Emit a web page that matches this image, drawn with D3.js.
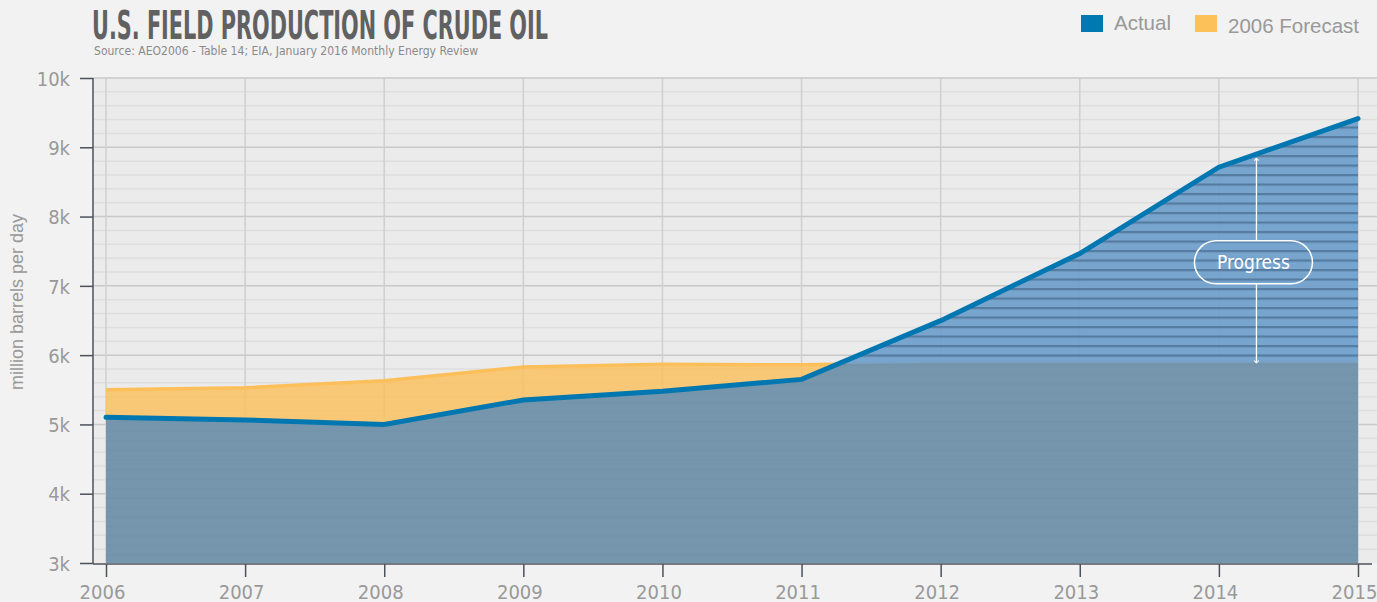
<!DOCTYPE html>
<html>
<head>
<meta charset="utf-8">
<script src="https://cdn.jsdelivr.net/npm/d3@7"></script>
<style>
  body { margin: 0; background: #f2f2f2; }
  svg { display: block; }
  .din { font-family: "DejaVu Sans Condensed", Roboto, sans-serif; }
  .helv { font-family: "Liberation Sans", Arial, sans-serif; }
</style>
</head>
<body>
<div id="chart"></div>
<script>
// data
const years = [2006, 2007, 2008, 2009, 2010, 2011, 2012, 2013, 2014, 2015];
const actual = [5102, 5064, 5000, 5353, 5479, 5650, 6498, 7467, 8712, 9415];
const forecast = [5500, 5530, 5630, 5830, 5870, 5860, 5890, 5890, 5890, 5890];
const yTicks = [3000, 4000, 5000, 6000, 7000, 8000, 9000, 10000];
const legendItems = ["Actual", "2006 Forecast"];
const progressYear = 2014.27;
const progressRange = [5890, 8840];
const progressLabelValue = 7340;

let w = 1377;
let h = 602;

let svg = d3.select("#chart")
  .append("svg")
    .attr("width", w)
    .attr("height", h);

// scales
let x = d3.scaleLinear().domain([2006, 2015]).range([106, 1358]);
let y = d3.scaleLinear().domain([3000, 10000]).range([563, 78]);

let plotLeft = 93, plotRight = 1377;

let defs = svg.append("defs");

// stripes for the progress region
let pat = defs.append("pattern")
  .attr("id", "stripes")
  .attr("patternUnits", "userSpaceOnUse")
  .attr("width", 20)
  .attr("height", 9.5)
  .attr("y", 3);
pat.append("rect").attr("width", 20).attr("height", 9.5).attr("fill", "#6fa0cc");
pat.append("rect").attr("width", 20).attr("height", 2.2).attr("fill", "#4a739b");

let data = years.map((yr, i) => ({year: yr, actual: actual[i], forecast: forecast[i]}));

let forecastArea = d3.area()
  .x(d => x(d.year))
  .y0(y(3000))
  .y1(d => y(d.forecast));
let actualArea = d3.area()
  .x(d => x(d.year))
  .y0(y(3000))
  .y1(d => y(d.actual));

defs.append("clipPath").attr("id", "fclip")
  .append("path").attr("d", forecastArea(data));

// plot background
svg.append("rect")
  .attr("x", plotLeft).attr("y", y(10000))
  .attr("width", plotRight - plotLeft).attr("height", y(3000) - y(10000))
  .attr("fill", "#ebebeb");

// minor grid
let minor = d3.range(3200, 10000, 200).filter(v => v % 1000 !== 0);
svg.append("g").selectAll("line").data(minor).join("line")
  .attr("x1", plotLeft).attr("x2", plotRight)
  .attr("y1", d => y(d)).attr("y2", d => y(d))
  .attr("stroke", "#dedede").attr("stroke-width", 1.5);

// major grid
svg.append("g").selectAll("line").data(yTicks.slice(1)).join("line")
  .attr("x1", plotLeft).attr("x2", plotRight)
  .attr("y1", d => y(d)).attr("y2", d => y(d))
  .attr("stroke", "#c9c9c9").attr("stroke-width", 1.5);

svg.append("g").selectAll("line").data(years).join("line")
  .attr("x1", d => x(d)).attr("x2", d => x(d))
  .attr("y1", y(10000)).attr("y2", y(3000))
  .attr("stroke", "#cfcfcf").attr("stroke-width", 1.5);

// forecast area
svg.append("path")
  .attr("d", forecastArea(data))
  .attr("fill", "#fdbf5a")
  .attr("fill-opacity", 0.8);
svg.append("path")
  .attr("d", d3.line().x(d => x(d.year)).y(d => y(d.forecast))(data))
  .attr("fill", "none")
  .attr("stroke", "#fdbf5a")
  .attr("stroke-width", 3.5);

// actual area: striped where it beats the forecast
svg.append("path")
  .attr("d", actualArea(data))
  .attr("fill", "url(#stripes)")
  .attr("fill-opacity", 0.93);
svg.append("path")
  .attr("d", actualArea(data))
  .attr("clip-path", "url(#fclip)")
  .attr("fill", "#7596ab")
  .attr("fill-opacity", 0.95);

// axes
let axisColor = "#4b505b";
let yAxis = d3.axisLeft(y).tickValues(yTicks).tickSize(13).tickFormat(d => d / 1000 + "k");
let gy = svg.append("g").attr("transform", "translate(" + plotLeft + ",0)").call(yAxis);
let xAxis = d3.axisBottom(x).tickValues(years).tickSize(13).tickFormat(d3.format("d"));
let gx = svg.append("g").attr("transform", "translate(0," + (y(3000) + 1) + ")").call(xAxis);
gx.select(".domain").attr("d", "M" + plotLeft + ",0H1372");
gy.select(".domain").attr("d", "M0," + y(10000) + "V" + (y(3000) + 1));
[gx, gy].forEach(g => {
  g.selectAll(".domain, .tick line").attr("stroke", axisColor).attr("stroke-width", 1.5);
  g.selectAll(".tick text")
    .attr("class", "din")
    .attr("fill", "#999")
    .attr("font-size", 20);
});
gy.selectAll(".tick text").attr("x", -23).attr("dy", "0.36em");
gx.selectAll(".tick text").attr("dx", -4).attr("y", 34.5).attr("dy", 0);

// actual line
svg.append("path")
  .attr("d", d3.line().x(d => x(d.year)).y(d => y(d.actual))(data))
  .attr("fill", "none")
  .attr("stroke", "#0077b0")
  .attr("stroke-width", 5)
  .attr("stroke-linecap", "round");

// progress annotation
let ax = x(progressYear);
let marker = (id, dpath) => defs.append("marker")
  .attr("id", id).attr("viewBox", "0 0 8 8").attr("refX", 4).attr("refY", 4)
  .attr("markerWidth", 6).attr("markerHeight", 6).attr("markerUnits", "userSpaceOnUse")
  .attr("orient", "auto")
  .append("path").attr("d", dpath).attr("fill", "none").attr("stroke", "#fff").attr("stroke-width", 1.4);
marker("ahead", "M1,1 L4,4 L1,7");
let boxW = 118, boxH = 43;
let by = y(progressLabelValue);
svg.append("line")
  .attr("x1", ax).attr("x2", ax)
  .attr("y1", by - boxH / 2).attr("y2", y(progressRange[1]))
  .attr("stroke", "#fff").attr("stroke-width", 1.3)
  .attr("marker-end", "url(#ahead)");
svg.append("line")
  .attr("x1", ax).attr("x2", ax)
  .attr("y1", by + boxH / 2).attr("y2", y(progressRange[0]))
  .attr("stroke", "#fff").attr("stroke-width", 1.3)
  .attr("marker-end", "url(#ahead)");
svg.append("rect")
  .attr("x", ax - boxW / 2 - 3).attr("y", by - boxH / 2)
  .attr("width", boxW).attr("height", boxH)
  .attr("rx", 21.5)
  .attr("fill", "none").attr("stroke", "#fff").attr("stroke-width", 1.5);
svg.append("text")
  .attr("class", "din")
  .attr("x", ax - 3).attr("y", by + 6.5)
  .attr("text-anchor", "middle")
  .attr("fill", "#fff")
  .attr("font-size", 19)
  .text("Progress");

// title
svg.append("text")
  .attr("class", "din")
  .attr("x", 92).attr("y", 39)
  .attr("fill", "#616161")
  .attr("font-size", 39)
  .attr("font-weight", "bold")
  .attr("textLength", 456)
  .attr("lengthAdjust", "spacingAndGlyphs")
  .text("U.S. FIELD PRODUCTION OF CRUDE OIL");
svg.append("text")
  .attr("class", "din")
  .attr("x", 94).attr("y", 55)
  .attr("fill", "#8a8a8a")
  .attr("font-size", 11.5)
  .attr("textLength", 384)
  .attr("lengthAdjust", "spacingAndGlyphs")
  .text("Source: AEO2006 - Table 14; EIA, January 2016 Monthly Energy Review");

// y label
svg.append("text")
  .attr("class", "helv")
  .attr("transform", "translate(23,302) rotate(-90)")
  .attr("text-anchor", "middle")
  .attr("fill", "#999")
  .attr("font-size", 18)
  .text("million barrels per day");

// legend
let legendColors = ["#0079b3", "#fdc15a"];
let legendX = [1081, 1195];
let legendBase = [29.5, 32.5];
legendItems.forEach((name, i) => {
  svg.append("rect")
    .attr("x", legendX[i]).attr("y", 15)
    .attr("width", 22).attr("height", 17)
    .attr("fill", legendColors[i]);
  svg.append("text")
    .attr("class", "helv")
    .attr("x", legendX[i] + 33).attr("y", legendBase[i])
    .attr("fill", "#999")
    .attr("font-size", 20.5)
    .text(name);
});
</script>
</body>
</html>
